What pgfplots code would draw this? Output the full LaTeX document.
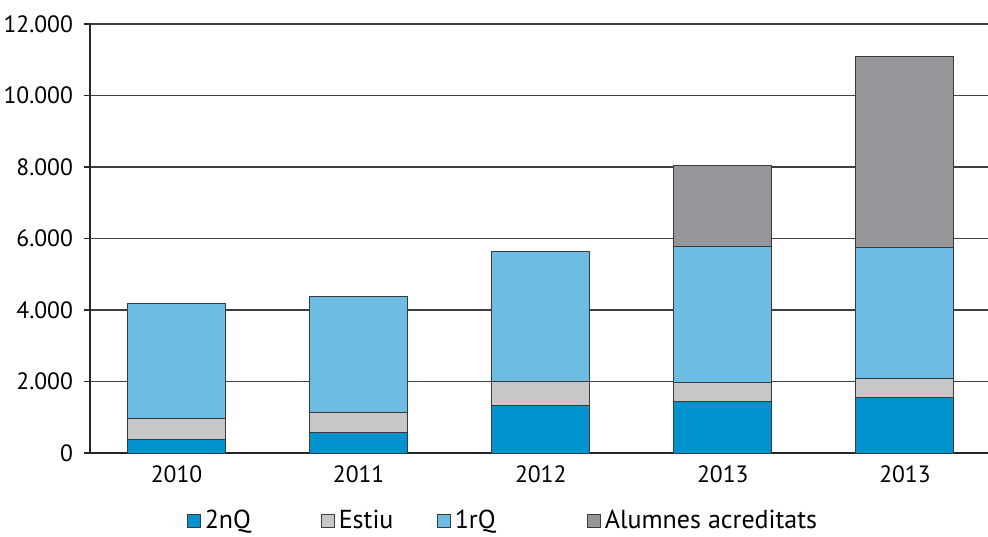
\documentclass[border=0pt]{standalone}
\usepackage{fontspec}
\setmainfont{PT Sans}
\usepackage{pgfplots}
\pgfplotsset{compat=1.18}
\definecolor{c2nq}{HTML}{0093D0}
\definecolor{cestiu}{HTML}{C6C7C9}
\definecolor{c1rq}{HTML}{6CBCE4}
\definecolor{calum}{HTML}{95969A}
\definecolor{edge}{HTML}{3A3A3C}

\begin{document}
\begin{tikzpicture}
\begin{axis}[
    at={(0,0)}, anchor=south west,
    scale only axis,
    width=449pt, height=214.5pt,
    ybar stacked,
    bar width=49pt,
    xmin=-0.475, xmax=4.456,
    ymin=0, ymax=12000,
    axis x line=bottom, axis y line=left,
    axis line style={line width=0.9pt, draw=black!85, -},
    font=\fontsize{11.8}{14}\selectfont,
    xtick={0,...,4},
    xticklabels={2010,2011,2012,2013,2013},
    x tick style={draw=none},
    extra x ticks={0.77,2.02,3.26},
    extra x tick labels={},
    extra x tick style={grid=none, major tick length=3pt, tick align=outside,
        tick style={draw=black!85, line width=0.6pt}},
    ytick={0,2000,...,12000},
    scaled y ticks=false,
    y tick style={draw=black!85, line width=0.6pt},
    tick align=outside,
    major tick length=3pt,
    ymajorgrids,
    grid style={black!75, line width=0.7pt},
    /pgf/number format/.cd, 1000 sep={.}, assume math mode=true,
    /pgfplots/.cd,
    yticklabel style={xshift=-2pt},
    legend columns=4,
    legend style={draw=none, at={(0.461,-0.158)}, anchor=center,
        font=\fontsize{13}{15}\selectfont,
        /tikz/every even column/.append style={column sep=0pt}},
    legend image code/.code={\draw[#1] (0pt,-3.25pt) rectangle (6.5pt,3.25pt);},
]
\addplot[fill=c2nq, draw=edge, line width=0.5pt] coordinates {
    (0,390) (1,560) (2,1320) (3,1440) (4,1560)
};
\addplot[fill=cestiu, draw=edge, line width=0.5pt] coordinates {
    (0,570) (1,570) (2,690) (3,540) (4,520)
};
\addplot[fill=c1rq, draw=edge, line width=0.5pt] coordinates {
    (0,3210) (1,3260) (2,3620) (3,3800) (4,3670)
};
\addplot[fill=calum, draw=edge, line width=0.5pt] coordinates {
    (0,0) (1,0) (2,0) (3,2270) (4,5350)
};
\legend{\makebox[56pt][l]{2nQ},\makebox[47pt][l]{Estiu},\makebox[64pt][l]{1rQ},Alumnes acreditats}
\end{axis}
\pgfresetboundingbox
\useasboundingbox (-45pt,-41.5pt) rectangle (449pt,226.5pt);
\end{tikzpicture}
\end{document}
